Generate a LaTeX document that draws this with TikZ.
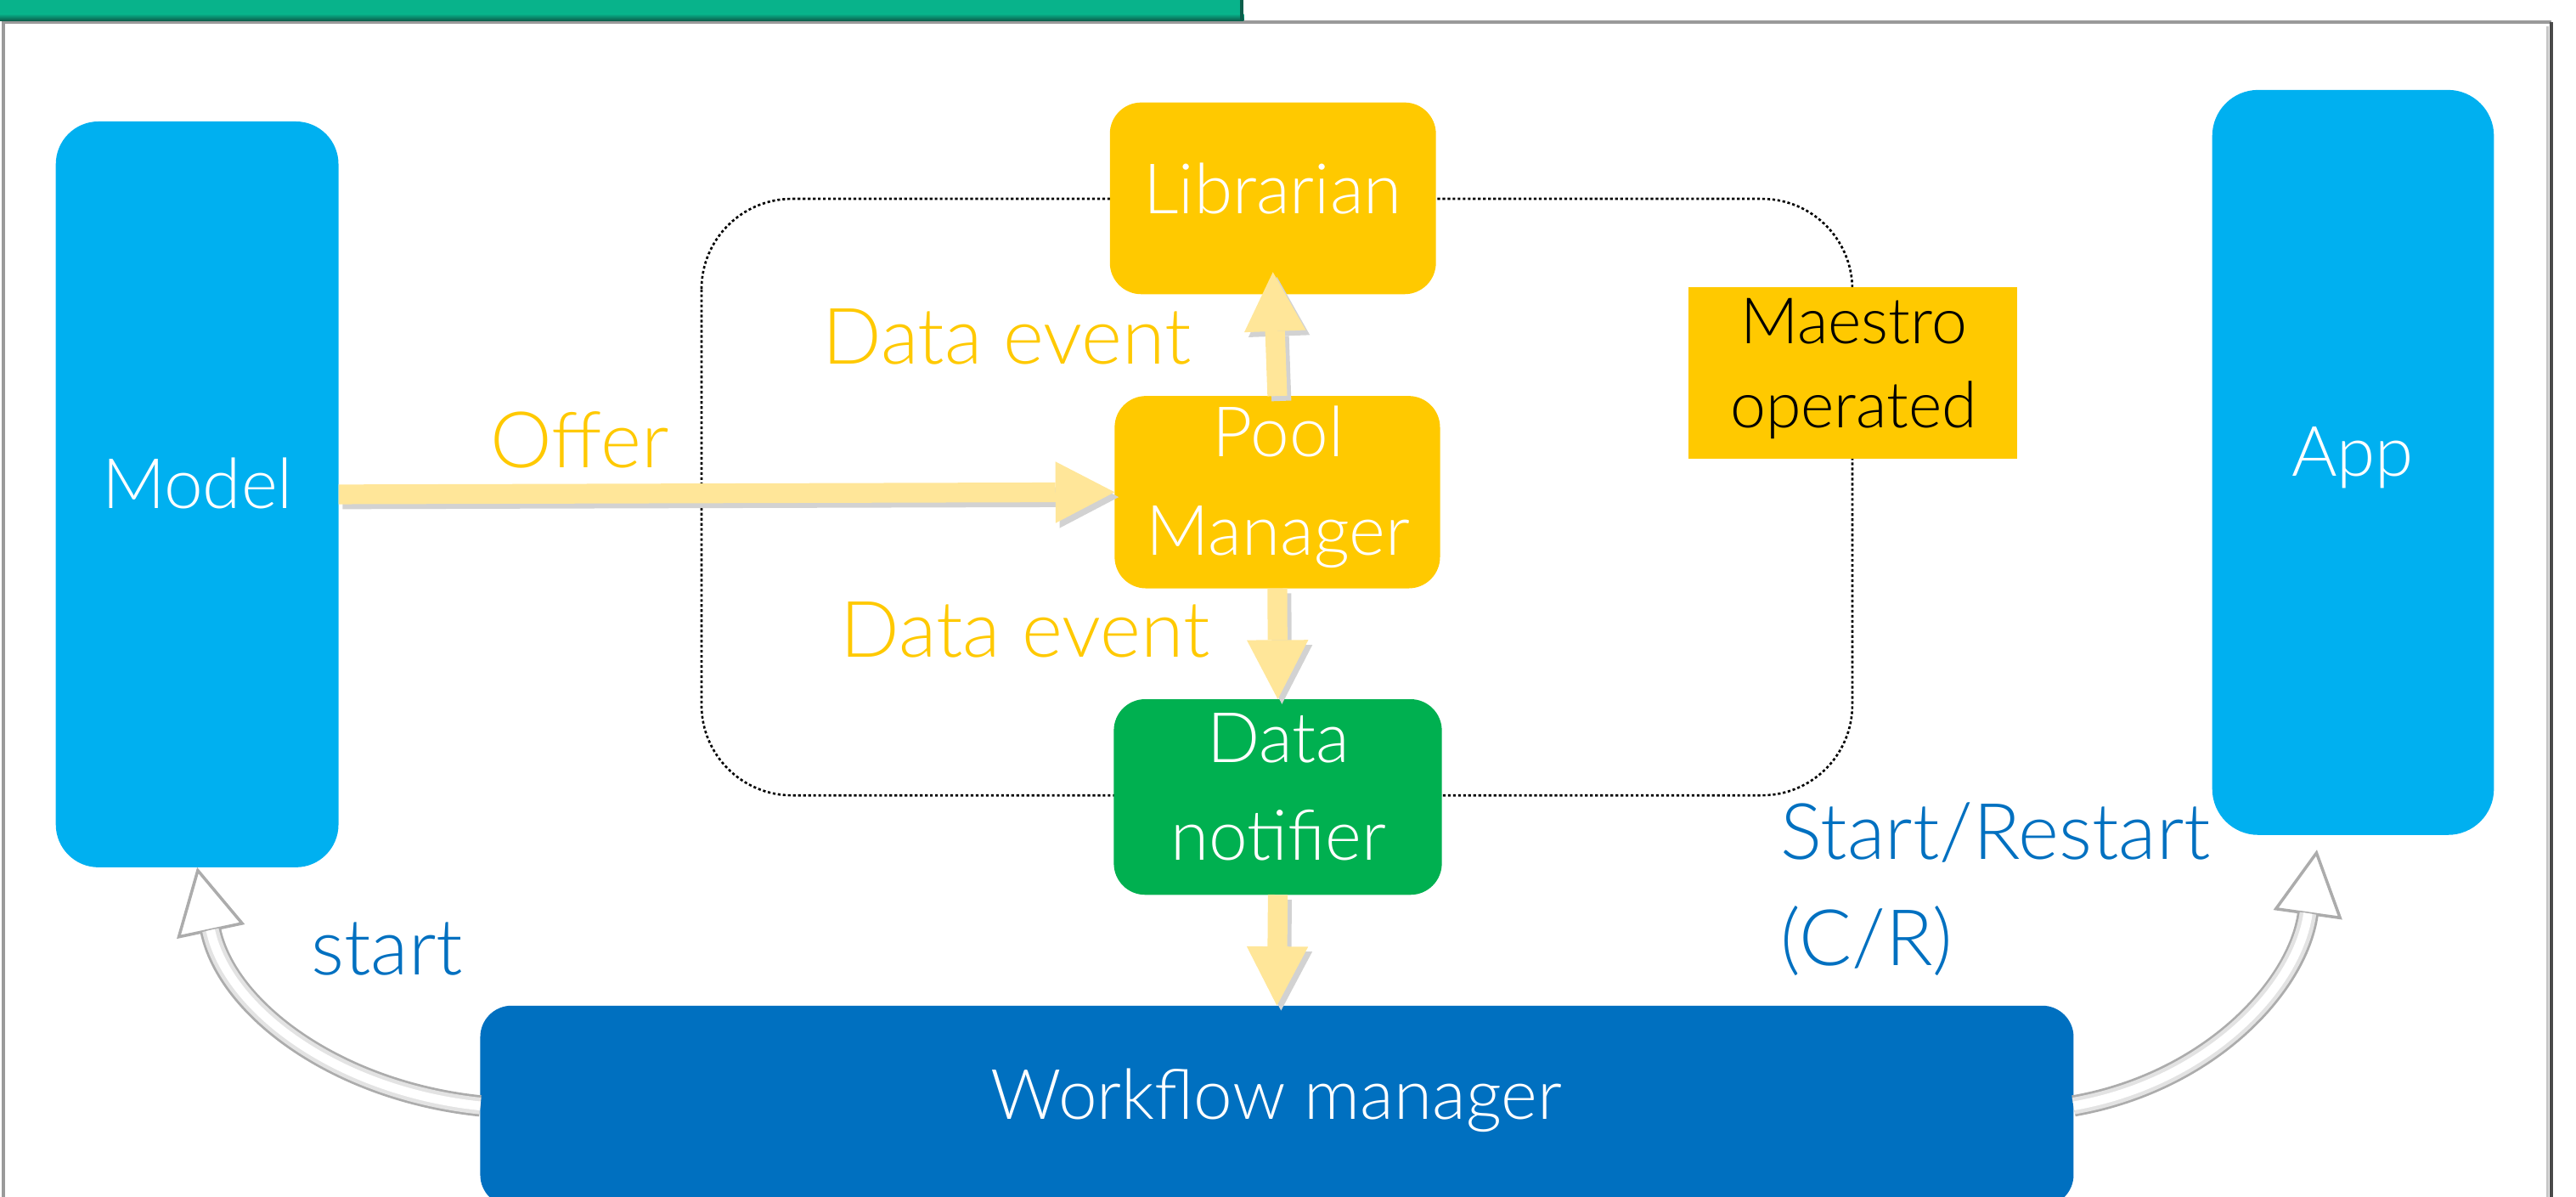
\documentclass[tikz,border=0pt]{standalone}
\usepackage{fontspec}
\setmainfont{Lato Light}
\usetikzlibrary{arrows.meta}

% one drawing unit (0.01934cm) as a length
\newdimen\uu \uu=0.55027pt
\newcommand{\twolines}[3]{\begin{tabular}[t]{@{}#1@{}}#2\\#3\end{tabular}}

\definecolor{cyanbox}{HTML}{00B0F0}
\definecolor{goldbox}{HTML}{FFC900}
\definecolor{greenbox}{HTML}{00B050}
\definecolor{wmblue}{HTML}{0070C0}
\definecolor{textblue}{HTML}{0070C0}
\definecolor{lightgold}{HTML}{FFE699}
\definecolor{barteal}{HTML}{08B38B}
\definecolor{bardark}{HTML}{0C5E4B}
\definecolor{framegray}{HTML}{9A9A9A}
\definecolor{framedark}{HTML}{4A4A4A}

\tikzset{
  blk/.style={inner sep=0pt, outer sep=0pt, draw=none, rounded corners=#1},
  btxt/.style={inner sep=0pt, anchor=base, text=white,
    font=\fontsize{23.3}{32.8}\selectfont},
  mtxt/.style={inner sep=0pt, anchor=base, text=black,
    font=\fontsize{21.4}{28.4}\selectfont},
  lbl/.style={inner sep=0pt, anchor=base,
    font=\fontsize{26.1}{35.6}\selectfont},
  dotline/.style={draw=black, line width=0.75pt, dash pattern=on 0.9pt off 0.8pt},
  yarr/.style={draw=lightgold, line width=6.6pt,
    -{Triangle[width=20.6pt,length=19.8pt,line width=0pt]}},
  yshad/.style={draw=gray!35, line width=6.6pt,
    -{Triangle[width=20.6pt,length=19.8pt,line width=0pt]},
    transform canvas={shift={(1.38pt,-1.65pt)}}},
  wout/.style={draw=gray!65, line width=7.15pt,
    -{Triangle[width=23.1pt,length=22pt,fill=white,line width=1pt]}},
  wmid/.style={draw=gray!22, line width=5.6pt, shorten >=21.5pt},
  win/.style={draw=white, line width=3pt, shorten >=21.5pt},
}

\begin{document}
\begin{tikzpicture}[x=0.01934cm, y=0.01934cm]
\useasboundingbox (0,0) rectangle (1568,-728);

% outer frame
\draw[framegray, line width=1.2pt] (2,-740) -- (2,-13.5) -- (1553,-13.5);
\draw[framedark, line width=1.3pt] (1553,-13.5) -- (1553,-740);
\draw[gray!45, line width=0.9pt] (1550.6,-16) -- (1550.6,-740);

% title bar
\fill[barteal] (0,0) rectangle (757,-8.5);
\shade[top color=barteal, bottom color=bardark] (0,-8.4) rectangle (757,-12.5);
\fill[bardark] (755,0) rectangle (757,-12.5);

% maestro-operated region
\draw[dotline, rounded corners=30.3pt] (427,-121) rectangle (1127.5,-484);

% boxes
\node[blk=14.3pt, fill=cyanbox, minimum width=172\uu, minimum height=453.7\uu] (model) at (120,-300.85) {};
\node[blk=15.4pt, fill=cyanbox, minimum width=171.4\uu, minimum height=453.2\uu] (app) at (1432.3,-281.4) {};
\node[blk=10.5pt, fill=goldbox, minimum width=198.4\uu, minimum height=116.6\uu] (lib) at (774.8,-120.7) {};
\node[blk=10.5pt, fill=goldbox, minimum width=198\uu, minimum height=117\uu] (pool) at (777.5,-299.5) {};
\node[blk=10.5pt, fill=greenbox, minimum width=199.6\uu, minimum height=119\uu] (notif) at (777.8,-485) {};
\node[blk=0pt, fill=goldbox, minimum width=200\uu, minimum height=104\uu] (maestro) at (1128,-227) {};
\node[blk=10.5pt, fill=wmblue, minimum width=969.5\uu, minimum height=122\uu] (wm) at (777.25,-673) {};

% data-flow arrows
\draw[yshad] (model.east) -- (pool.west);
\draw[yshad] (pool.north) -- ([yshift=7.4pt]lib.south);
\draw[yshad] (pool.south) -- (notif.north);
\draw[yshad] (notif.south) -- (wm.north);
\draw[yarr] (model.east) -- (pool.west);
\draw[yarr] (pool.north) -- ([yshift=7.4pt]lib.south);
\draw[yarr] (pool.south) -- (notif.north);
\draw[yarr] (notif.south) -- (wm.north);

% control arrows
\coordinate (apptip) at ([shift={(-22,-9)}]app.south);
\draw[wout] (wm.west) to[out=174,in=-78] (model.south);
\draw[wmid] (wm.west) to[out=174,in=-78] (model.south);
\draw[win]  (wm.west) to[out=174,in=-78] (model.south);
\draw[wout] (wm.east) to[out=10,in=-98] (apptip);
\draw[wmid] (wm.east) to[out=10,in=-98] (apptip);
\draw[win]  (wm.east) to[out=10,in=-98] (apptip);

% box texts
\node[btxt] (modeltxt) at (120.2,-309.4) {Model};
\node[btxt] (apptxt) at (1432,-289.9) {App};
\node[btxt] (libtxt) at (774.7,-130) {Librarian};
\node[btxt] (pooltxt) at (778,-278) {\twolines{c}{Pool}{Manager}};
\node[btxt] (notiftxt) at (778.2,-463.8) {\twolines{c}{Data}{notifier}};
\node[mtxt] (maestrotxt) at (1128.3,-208.9) {\twolines{c}{Maestro}{operated}};
\node[btxt] (wmtxt) at (777,-681) {Workflow manager};

% arrow labels
\node[lbl, text=goldbox] (offertxt) at (352.8,-284.7) {Offer};
\node[lbl, text=goldbox] (ev1txt) at (613,-221.3) {Data event};
\node[lbl, text=goldbox] (ev2txt) at (624,-400) {Data event};
\node[lbl, text=textblue] (starttxt) at (235.5,-593) {start};
\node[lbl, text=textblue, anchor=base west] (crtxt) at (1083.5,-523) {\twolines{l}{Start/Restart}{(C/R)}};
\end{tikzpicture}
\end{document}
